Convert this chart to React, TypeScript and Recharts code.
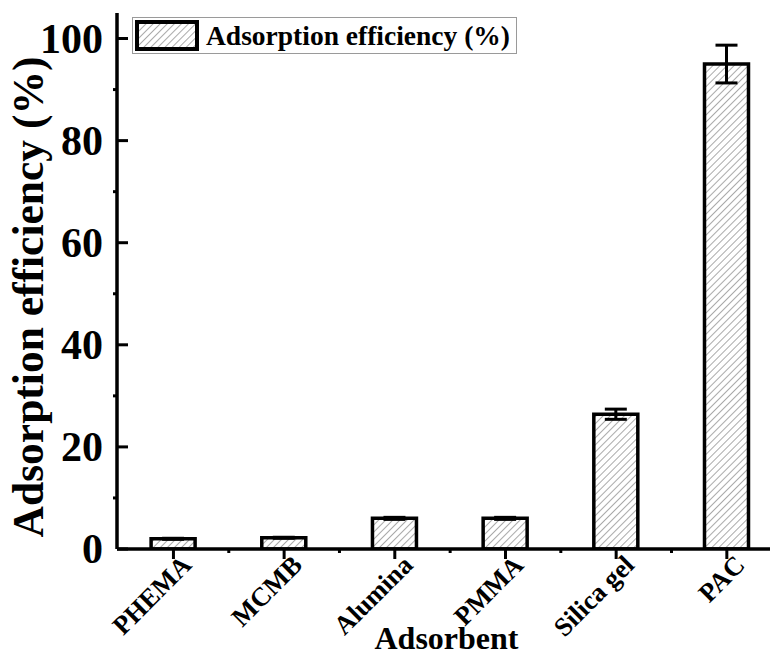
import React from 'react';
import { BarChart, Bar, XAxis, YAxis, ErrorBar, Legend, Label } from 'recharts';

// adsorbent materials along the x axis
const adsorbents = ['PHEMA', 'MCMB', 'Alumina', 'PMMA', 'Silica gel', 'PAC'];
// mean adsorption efficiency (%)
const efficiency = [2.0, 2.2, 6.0, 6.0, 26.4, 95.0];
// standard deviation (%)
const efficiencyErr = [0.1, 0.1, 0.2, 0.2, 1.0, 3.7];

const yTicks = [0, 10, 20, 30, 40, 50, 60, 70, 80, 90, 100];
const xTicks = [1, 1.5, 2, 2.5, 3, 3.5, 4, 4.5, 5, 5.5, 6];

const data = adsorbents.map((name, i) => ({
  pos: i + 1,
  name,
  efficiency: efficiency[i],
  err: efficiencyErr[i],
}));

const FONT = '"Liberation Serif", "Times New Roman", serif';

const YTick = (props: any) => {
  const { x, y, payload } = props;
  const v = payload.value;
  if (v % 20 !== 0) {
    return <line x1={x} y1={y} x2={x - 4} y2={y} stroke="#000" strokeWidth={3} />;
  }
  return (
    <g>
      <line x1={x} y1={y} x2={x + 11} y2={y} stroke="#000" strokeWidth={3} />
      <text
        x={x - 14}
        y={y}
        textAnchor="end"
        dominantBaseline="central"
        fontFamily={FONT}
        fontWeight="bold"
        fontSize={42}
        fill="#000"
      >
        {v}
      </text>
    </g>
  );
};

const XTick = (props: any) => {
  const { x, y, payload } = props;
  const v = payload.value;
  if (!Number.isInteger(v)) {
    return <line x1={x} y1={y} x2={x} y2={y + 4} stroke="#000" strokeWidth={3} />;
  }
  // rotated label hangs from a point just right of the tick
  const tx = x + 6;
  const ty = y + 4;
  return (
    <g>
      <line x1={x} y1={y} x2={x} y2={y + 10} stroke="#000" strokeWidth={3} />
      <text
        x={tx}
        y={ty}
        transform={`rotate(-45 ${tx} ${ty})`}
        textAnchor="end"
        dominantBaseline="hanging"
        fontFamily={FONT}
        fontWeight="bold"
        fontSize={26.5}
        fill="#000"
      >
        {adsorbents[v - 1]}
      </text>
    </g>
  );
};

const YTitle = ({ viewBox }: any) => {
  const cx = viewBox.x + 28;
  const cy = viewBox.y + viewBox.height / 2 + 16;
  return (
    <text
      x={cx}
      y={cy}
      transform={`rotate(-90 ${cx} ${cy})`}
      textAnchor="middle"
      dominantBaseline="central"
      fontFamily={FONT}
      fontWeight="bold"
      fontSize={43.5}
      fill="#000"
    >
      Adsorption efficiency (%)
    </text>
  );
};

const XTitle = ({ viewBox }: any) => (
  <text
    x={viewBox.x + viewBox.width / 2 + 3}
    y={viewBox.y + 89}
    textAnchor="middle"
    dominantBaseline="central"
    fontFamily={FONT}
    fontWeight="bold"
    fontSize={32}
    fill="#000"
  >
    Adsorbent
  </text>
);

const LegendBox = () => (
  <div
    style={{
      display: 'flex',
      alignItems: 'center',
      border: '1px solid #9a9a9a',
      padding: '2px 6px 2px 2px',
      background: '#fff',
    }}
  >
    <svg width={64} height={31} style={{ display: 'block' }}>
      <rect x={2} y={2} width={60} height={27} fill="url(#hatch)" stroke="#000" strokeWidth={4} />
    </svg>
    <span
      style={{
        marginLeft: 7,
        fontFamily: FONT,
        fontWeight: 'bold',
        fontSize: 27.5,
        lineHeight: '31px',
        color: '#000',
        whiteSpace: 'nowrap',
      }}
    >
      Adsorption efficiency (%)
    </span>
  </div>
);

export default function App() {
  return (
    <div style={{ position: 'absolute', left: 0, top: 0, background: '#fff' }}>
      <BarChart
        width={774}
        height={655}
        data={data}
        margin={{ top: 13, right: 4, left: 0, bottom: 0 }}
      >
        <defs>
          <pattern
            id="hatch"
            width={5}
            height={5}
            patternUnits="userSpaceOnUse"
            patternTransform="rotate(45)"
          >
            <line x1={0} y1={0} x2={0} y2={5} stroke="#555" strokeWidth={1} />
          </pattern>
        </defs>
        <XAxis
          xAxisId="bottom"
          dataKey="pos"
          type="number"
          domain={[0.49, 6.39]}
          ticks={xTicks}
          interval={0}
          height={106}
          axisLine={{ stroke: '#000', strokeWidth: 3.5 }}
          tickLine={false}
          tickSize={0}
          tickMargin={0}
          tick={<XTick />}
          allowDataOverflow
        >
          <Label content={<XTitle />} />
        </XAxis>
        <XAxis
          xAxisId="top"
          orientation="top"
          dataKey="pos"
          type="number"
          domain={[0.49, 6.39]}
          height={0}
          tick={false}
          tickLine={false}
          axisLine={{ stroke: '#000', strokeWidth: 3 }}
        />
        <YAxis
          yAxisId="left"
          type="number"
          domain={[0, 105]}
          ticks={yTicks}
          interval={0}
          width={117}
          axisLine={{ stroke: '#000', strokeWidth: 3.5 }}
          tickLine={false}
          tickSize={0}
          tickMargin={0}
          tick={<YTick />}
          allowDataOverflow
        >
          <Label content={<YTitle />} />
        </YAxis>
        <YAxis
          yAxisId="right"
          orientation="right"
          domain={[0, 105]}
          width={0}
          tick={false}
          tickLine={false}
          axisLine={{ stroke: '#000', strokeWidth: 3 }}
        />
        <Legend
          layout="vertical"
          align="center"
          verticalAlign="middle"
          content={<LegendBox />}
          wrapperStyle={{ top: 17, left: 132, width: 'auto', height: 'auto' }}
        />
        <Bar
          xAxisId="bottom"
          yAxisId="left"
          dataKey="efficiency"
          name="Adsorption efficiency (%)"
          barSize={44}
          fill="url(#hatch)"
          stroke="#000"
          strokeWidth={3.5}
          isAnimationActive={false}
        >
          <ErrorBar dataKey="err" width={11} stroke="#000" strokeWidth={3} isAnimationActive={false} />
        </Bar>
      </BarChart>
    </div>
  );
}
